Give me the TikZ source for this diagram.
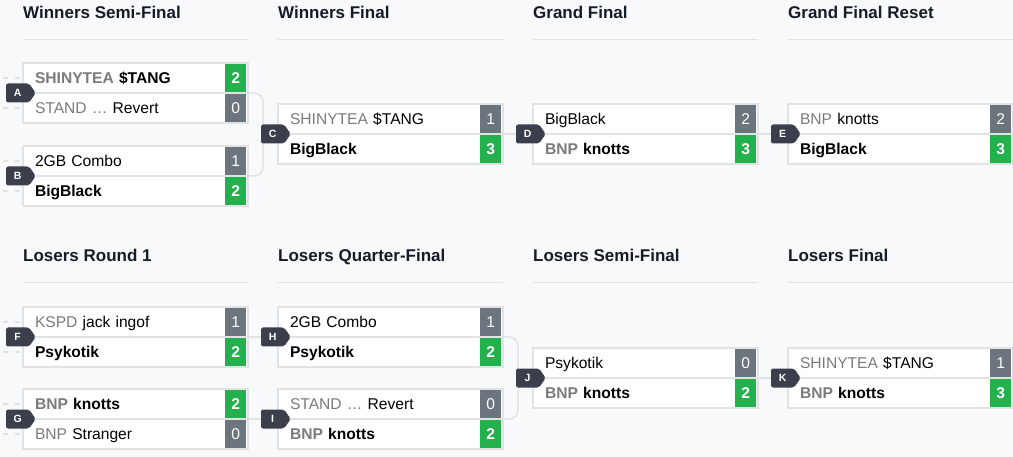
\documentclass[tikz,border=0pt]{standalone}
\usepackage{fontspec}
\setmainfont{Liberation Sans}
\usetikzlibrary{positioning, shapes.symbols}
\definecolor{paper}{HTML}{F8F9FA}
\definecolor{rim}{HTML}{E1E2E4}
\definecolor{won}{HTML}{22B14C}
\definecolor{lost}{HTML}{6C757D}
\definecolor{tag}{HTML}{3A3F4B}
\definecolor{ink}{HTML}{151C28}
\definecolor{dim}{HTML}{7B7B7B}
\newcommand{\pre}[1]{\textcolor{dim}{#1}}
\tikzset{
x=1pt, y=-1pt, % one unit is one pixel, y runs down the page
row/.style={draw=rim, line width=1.5pt, fill=white, minimum width=225pt, minimum height=30pt, text width=201pt, text height=14pt, text depth=3pt, inner xsep=12pt, inner ysep=0pt, outer sep=0pt, align=left, font=\fontsize{15.6}{18}\selectfont}, % one player line of a match
winner/.style={row, font=\fontsize{15.6}{18}\selectfont\bfseries}, % the player who went through
score/.style={text=white, minimum width=21pt, minimum height=28.5pt, inner sep=0pt, font=\fontsize{15.6}{18}\selectfont}, % box with the games won
up/.style={score, fill=won, font=\fontsize{15.6}{18}\selectfont\bfseries},
down/.style={score, fill=lost},
badge/.style={signal, signal to=east, signal pointer angle=110, fill=tag, text=white, text width=15pt, align=center, inner xsep=4pt, inner ysep=0pt, minimum height=19pt, rounded corners=2pt, font=\fontsize{10.5}{10.5}\selectfont\bfseries}, % letter of a match
link/.style={draw=rim, line width=1.5pt, rounded corners=9pt}, % from one match to the next
stub/.style={draw=rim, line width=2.5pt, dash pattern=on 5pt off 7pt},
head/.style={anchor=base west, inner sep=0pt, text=ink, font=\fontsize{17}{20}\selectfont\bfseries},
rule/.style={draw=rim, line width=1pt},
}

\begin{document}
\begin{tikzpicture}
    \useasboundingbox (0,0) rectangle (1013,457);
    \fill[paper] (0,0) rectangle (1013,457);

    % round titles
    \node[head] (ws) at (23,19) {Winners Semi-Final};
    \node[head] (wf) at (278,19) {Winners Final};
    \node[head] (gf) at (533,19) {Grand Final};
    \node[head] (gr) at (788,19) {Grand Final Reset};
    \node[head] (l1) at (23,262) {Losers Round 1};
    \node[head] (lq) at (278,262) {Losers Quarter-Final};
    \node[head] (ls) at (533,262) {Losers Semi-Final};
    \node[head] (lf) at (788,262) {Losers Final};
    \foreach \x in {23,278,533,788}
        \foreach \y in {40,283}
            \draw[rule] (\x,\y) -- ++(225,0);

    % winners side
    \node[winner, anchor=north west] (A1) at (23,63) {\pre{SHINYTEA} \$TANG};
    \node[row, below=0pt of A1] (A2) {\pre{STAND …} Revert};
    \node[row, below=23pt of A2] (B1) {2GB Combo};
    \node[winner, below=0pt of B1] (B2) {BigBlack};
    \node[row, anchor=north west] (C1) at (278,104) {\pre{SHINYTEA} \$TANG};
    \node[winner, below=0pt of C1] (C2) {BigBlack};
    \node[row, right=30pt of C1] (D1) {BigBlack};
    \node[winner, below=0pt of D1] (D2) {\pre{BNP} knotts};
    \node[row, right=30pt of D1] (E1) {\pre{BNP} knotts};
    \node[winner, below=0pt of E1] (E2) {BigBlack};

    % losers side
    \node[row, anchor=north west] (F1) at (23,307) {\pre{KSPD} jack ingof};
    \node[winner, below=0pt of F1] (F2) {Psykotik};
    \node[winner, below=22pt of F2] (G1) {\pre{BNP} knotts};
    \node[row, below=0pt of G1] (G2) {\pre{BNP} Stranger};
    \node[row, right=30pt of F1] (H1) {2GB Combo};
    \node[winner, below=0pt of H1] (H2) {Psykotik};
    \node[row, right=30pt of G1] (I1) {\pre{STAND …} Revert};
    \node[winner, below=0pt of I1] (I2) {\pre{BNP} knotts};
    \node[row, anchor=north west] (J1) at (533,348) {Psykotik};
    \node[winner, below=0pt of J1] (J2) {\pre{BNP} knotts};
    \node[row, right=30pt of J1] (K1) {\pre{SHINYTEA} \$TANG};
    \node[winner, below=0pt of K1] (K2) {\pre{BNP} knotts};

    \foreach \r/\s/\k in {A1/2/up, A2/0/down, B1/1/down, B2/2/up, C1/1/down, C2/3/up,
        D1/2/down, D2/3/up, E1/2/down, E2/3/up, F1/1/down, F2/2/up, G1/2/up, G2/0/down,
        H1/1/down, H2/2/up, I1/0/down, I2/2/up, J1/0/down, J2/2/up, K1/1/down, K2/3/up}
        \node[\k, left=1.5pt of \r.east] (\r-s) {\s};

    % who goes where
    \coordinate (c-in) at ([xshift=-15pt]C1.south west);
    \coordinate (j-in) at ([xshift=-15pt]J1.south west);
    \draw[link] (A1.south east) -| (c-in) |- (B1.south east);
    \draw[link] (c-in) -- (C1.south west);
    \draw[link] (C1.south east) -- (D1.south west);
    \draw[link] (D1.south east) -- (E1.south west);
    \draw[link] (F1.south east) -- (H1.south west);
    \draw[link] (G1.south east) -- (I1.south west);
    \draw[link] (H1.south east) -| (j-in) |- (I1.south east);
    \draw[link] (j-in) -- (J1.south west);
    \draw[link] (J1.south east) -- (K1.south west);
    \foreach \r in {A1,A2,B1,B2,F1,F2,G1,G2}
        \draw[stub] ([xshift=-20pt]\r.west) -- ([xshift=-3pt]\r.west);

    \foreach \m in {A,B,C,D,E,F,G,H,I,J,K}
        \node[badge, left=-13pt of \m1.south west] (\m) {\m};
\end{tikzpicture}
\end{document}
